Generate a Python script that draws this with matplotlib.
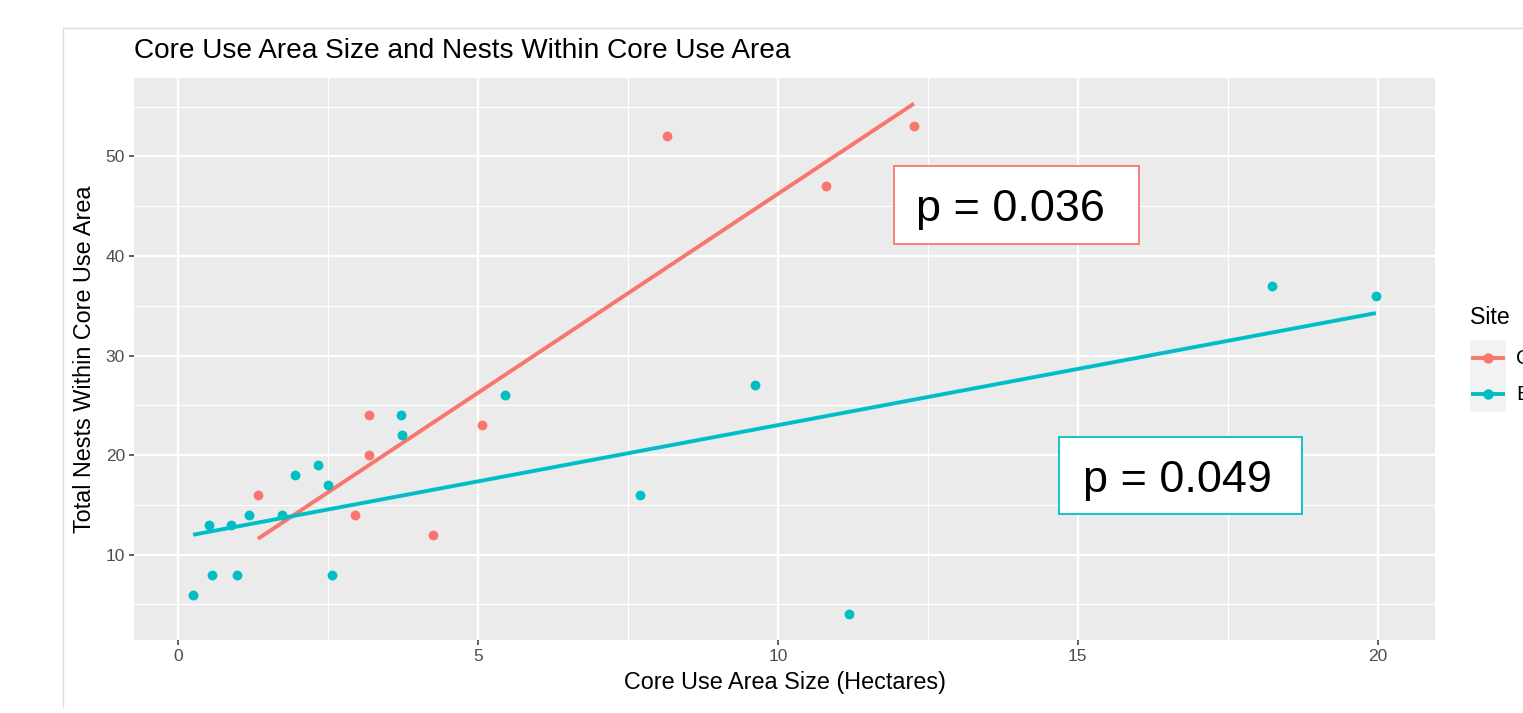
import numpy as np
import matplotlib
matplotlib.use("Agg")
import matplotlib.pyplot as plt
from matplotlib.patches import Rectangle
from matplotlib.lines import Line2D

plt.rcParams['font.family'] = ['Liberation Sans', 'DejaVu Sans']

# ---- data ----
title = "Core Use Area Size and Nests Within Core Use Area"
xlabel = "Core Use Area Size (Hectares)"
ylabel = "Total Nests Within Core Use Area"
legend_title = "Site"
site_labels = ["C", "B"]
site_colors = ["#F8766D", "#00BFC4"]

c_x = [1.33, 3.18, 3.18, 2.95, 4.25, 5.07, 8.15, 10.8, 12.27]
c_y = [16, 24, 20, 14, 12, 23, 52, 47, 53]

b_x = [0.25, 0.52, 0.57, 0.88, 0.98, 1.18, 1.73, 1.95, 2.33, 2.50,
       2.57, 3.72, 3.73, 5.45, 7.70, 9.62, 11.18, 18.23, 19.97]
b_y = [6, 13, 8, 13, 8, 14, 14, 18, 19, 17,
       8, 24, 22, 26, 16, 27, 4, 37, 36]

p_labels = ["p = 0.036", "p = 0.049"]

x_ticks = [0, 5, 10, 15, 20]
y_ticks = [10, 20, 30, 40, 50]

# ---- figure ----
W, H = 1523, 713
fig = plt.figure(figsize=(W / 100, H / 100), dpi=100)
fig.patch.set_facecolor("white")

def fx(px):
    return px / W

def fy(py):
    return 1 - py / H

# screenshot frame
fig.add_artist(Line2D([fx(63), fx(63)], [fy(28), fy(707)], color="#DDDDDD", lw=1))
fig.add_artist(Line2D([fx(63), 1.0], [fy(28), fy(28)], color="#DDDDDD", lw=1))

pl, pr, pt, pb = 134, 1435, 78, 640
ax = fig.add_axes([fx(pl), fy(pb), fx(pr) - fx(pl), fy(pt) - fy(pb)])
ax.set_facecolor("#EBEBEB")
for s in ax.spines.values():
    s.set_visible(False)

series = [(c_x, c_y), (b_x, b_y)]
fits = []
for (xs, ys), col in zip(series, site_colors):
    xs = np.array(xs); ys = np.array(ys)
    k, b = np.polyfit(xs, ys, 1)
    xx = np.array([xs.min(), xs.max()])
    fits.append((xx, k * xx + b))

# limits with ggplot-like 5% expansion
all_x = np.concatenate([c_x, b_x])
all_y = np.concatenate([c_y, b_y] + [f[1] for f in fits])
xr = all_x.max() - all_x.min()
yr = all_y.max() - all_y.min()
ax.set_xlim(all_x.min() - 0.05 * xr, all_x.max() + 0.05 * xr)
ax.set_ylim(all_y.min() - 0.05 * yr, all_y.max() + 0.05 * yr)

ax.set_xticks(x_ticks)
ax.set_yticks(y_ticks)
ax.set_xticks([2.5, 7.5, 12.5, 17.5], minor=True)
ax.set_yticks([5, 15, 25, 35, 45, 55], minor=True)
ax.grid(which="major", color="white", lw=1.6, zorder=0)
ax.grid(which="minor", color="white", lw=0.8, zorder=0)
ax.set_axisbelow(True)
ax.tick_params(which="major", length=3.5, width=1.1, color="#333333",
               labelcolor="#4D4D4D", labelsize=12.5, pad=3)
ax.tick_params(which="minor", length=0)

for (xs, ys), col, (fxx, fyy) in zip(series, site_colors, fits):
    ax.plot(fxx, fyy, color=col, lw=2.8, zorder=3, solid_capstyle="butt")
    ax.scatter(xs, ys, s=50, color=col, zorder=4, linewidths=0)

# p-value labels
boxes = [((11.93, 41.2), 4.09, 7.8, site_colors[0], (12.3, 43.5)),
         ((14.68, 14.1), 4.06, 7.7, site_colors[1], (15.08, 16.3))]
for lab, ((bx, by), bw, bh, col, (tx, ty)) in zip(p_labels, boxes):
    ax.add_patch(Rectangle((bx, by), bw, bh, facecolor="white", edgecolor=col,
                           lw=1.3, zorder=5))
    ax.text(tx, ty, lab, ha="left", va="baseline",
            fontsize=32.4, color="black", zorder=6)

ax.set_xlabel(xlabel, fontsize=16.8, color="black", labelpad=5)
ax.set_ylabel(ylabel, fontsize=16.8, color="black", labelpad=7)
fig.text(fx(134), fy(51), title, fontsize=20.2, color="black", ha="left", va="center")

# legend (cut off by the edge, as in the reference)
fig.text(fx(1470), fy(318), legend_title, fontsize=16.7, ha="left", va="center")
fig.add_artist(Rectangle((fx(1470), fy(412)), fx(36), fy(340) - fy(412),
                         facecolor="#F2F2F2", edgecolor="none"))
for i, (lab, col) in enumerate(zip(site_labels, site_colors)):
    yy = 358 + i * 36
    fig.add_artist(Line2D([fx(1473), fx(1503)], [fy(yy), fy(yy)], color=col, lw=2.8,
                          marker=None))
    fig.add_artist(Line2D([fx(1488)], [fy(yy)], color=col, marker="o", ms=7.5,
                          markeredgewidth=0, linestyle="none"))
    fig.text(fx(1516), fy(yy), lab, fontsize=15, ha="left", va="center", color="black")

fig.savefig("out.png", dpi=100)
